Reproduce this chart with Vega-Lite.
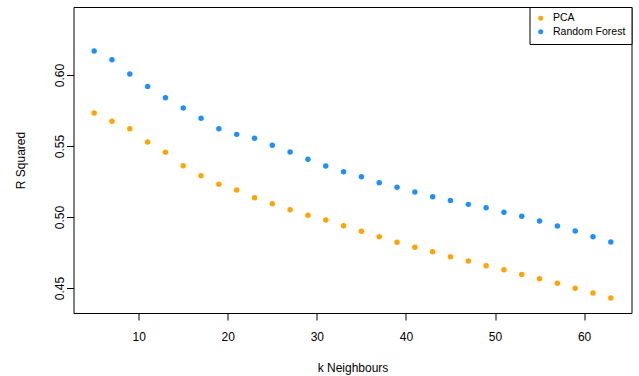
{
  "$schema": "https://vega.github.io/schema/vega-lite/v6.json",
  "width": 558,
  "height": 306,
  "autosize": {"type": "none"},
  "padding": {"left": 73.5, "top": 7, "right": 7.5, "bottom": 63},
  "config": {
    "font": "Liberation Sans",
    "view": {"stroke": "black", "strokeWidth": 1},
    "axis": {
      "grid": false,
      "domain": false,
      "tickColor": "black",
      "tickSize": 7,
      "labelColor": "black",
      "labelFontSize": 12,
      "titleFontSize": 12,
      "titleFontWeight": "normal",
      "titleColor": "black"
    }
  },
  "data": {
    "values": [
      {"k": 5, "method": "PCA", "r2": 0.5732},
      {"k": 7, "method": "PCA", "r2": 0.5674},
      {"k": 9, "method": "PCA", "r2": 0.5622},
      {"k": 11, "method": "PCA", "r2": 0.5528},
      {"k": 13, "method": "PCA", "r2": 0.5456},
      {"k": 15, "method": "PCA", "r2": 0.5361},
      {"k": 17, "method": "PCA", "r2": 0.5291},
      {"k": 19, "method": "PCA", "r2": 0.5230},
      {"k": 21, "method": "PCA", "r2": 0.5190},
      {"k": 23, "method": "PCA", "r2": 0.5136},
      {"k": 25, "method": "PCA", "r2": 0.5094},
      {"k": 27, "method": "PCA", "r2": 0.5051},
      {"k": 29, "method": "PCA", "r2": 0.5012},
      {"k": 31, "method": "PCA", "r2": 0.4979},
      {"k": 33, "method": "PCA", "r2": 0.4939},
      {"k": 35, "method": "PCA", "r2": 0.4899},
      {"k": 37, "method": "PCA", "r2": 0.4861},
      {"k": 39, "method": "PCA", "r2": 0.4822},
      {"k": 41, "method": "PCA", "r2": 0.4787},
      {"k": 43, "method": "PCA", "r2": 0.4756},
      {"k": 45, "method": "PCA", "r2": 0.4720},
      {"k": 47, "method": "PCA", "r2": 0.4690},
      {"k": 49, "method": "PCA", "r2": 0.4657},
      {"k": 51, "method": "PCA", "r2": 0.4629},
      {"k": 53, "method": "PCA", "r2": 0.4596},
      {"k": 55, "method": "PCA", "r2": 0.4566},
      {"k": 57, "method": "PCA", "r2": 0.4533},
      {"k": 59, "method": "PCA", "r2": 0.4498},
      {"k": 61, "method": "PCA", "r2": 0.4465},
      {"k": 63, "method": "PCA", "r2": 0.4430},
      {"k": 5, "method": "Random Forest", "r2": 0.6169},
      {"k": 7, "method": "Random Forest", "r2": 0.6108},
      {"k": 9, "method": "Random Forest", "r2": 0.6007},
      {"k": 11, "method": "Random Forest", "r2": 0.5920},
      {"k": 13, "method": "Random Forest", "r2": 0.5840},
      {"k": 15, "method": "Random Forest", "r2": 0.5768},
      {"k": 17, "method": "Random Forest", "r2": 0.5695},
      {"k": 19, "method": "Random Forest", "r2": 0.5622},
      {"k": 21, "method": "Random Forest", "r2": 0.5582},
      {"k": 23, "method": "Random Forest", "r2": 0.5554},
      {"k": 25, "method": "Random Forest", "r2": 0.5505},
      {"k": 27, "method": "Random Forest", "r2": 0.5458},
      {"k": 29, "method": "Random Forest", "r2": 0.5406},
      {"k": 31, "method": "Random Forest", "r2": 0.5359},
      {"k": 33, "method": "Random Forest", "r2": 0.5319},
      {"k": 35, "method": "Random Forest", "r2": 0.5284},
      {"k": 37, "method": "Random Forest", "r2": 0.5241},
      {"k": 39, "method": "Random Forest", "r2": 0.5209},
      {"k": 41, "method": "Random Forest", "r2": 0.5176},
      {"k": 43, "method": "Random Forest", "r2": 0.5143},
      {"k": 45, "method": "Random Forest", "r2": 0.5117},
      {"k": 47, "method": "Random Forest", "r2": 0.5089},
      {"k": 49, "method": "Random Forest", "r2": 0.5065},
      {"k": 51, "method": "Random Forest", "r2": 0.5033},
      {"k": 53, "method": "Random Forest", "r2": 0.5005},
      {"k": 55, "method": "Random Forest", "r2": 0.4972},
      {"k": 57, "method": "Random Forest", "r2": 0.4937},
      {"k": 59, "method": "Random Forest", "r2": 0.4901},
      {"k": 61, "method": "Random Forest", "r2": 0.4861},
      {"k": 63, "method": "Random Forest", "r2": 0.4824}
    ]
  },
  "mark": {"type": "circle", "size": 30, "opacity": 1},
  "encoding": {
    "x": {
      "field": "k",
      "type": "quantitative",
      "title": "k Neighbours",
      "scale": {"domain": [2.68, 65.32], "nice": false, "zero": false},
      "axis": {"values": [10, 20, 30, 40, 50, 60], "labelPadding": 11, "titlePadding": 20}
    },
    "y": {
      "field": "r2",
      "type": "quantitative",
      "title": "R Squared",
      "scale": {"domain": [0.4324, 0.6479], "nice": false, "zero": false},
      "axis": {
        "values": [0.45, 0.5, 0.55, 0.6],
        "format": ".2f",
        "labelAngle": 270,
        "labelAlign": "center",
        "labelBaseline": "bottom",
        "labelPadding": 0,
        "titlePadding": 26
      }
    },
    "color": {
      "field": "method",
      "type": "nominal",
      "scale": {"domain": ["PCA", "Random Forest"], "range": ["#FFA500", "#1E90FF"]},
      "legend": {
        "title": null,
        "orient": "top-right",
        "offset": 0,
        "strokeColor": "black",
        "fillColor": "white",
        "padding": 6,
        "rowPadding": 2.5,
        "symbolType": "circle",
        "symbolSize": 25,
        "symbolStrokeWidth": 0,
        "labelFontSize": 10.5,
        "labelColor": "black",
        "labelOffset": 7
      }
    }
  }
}
